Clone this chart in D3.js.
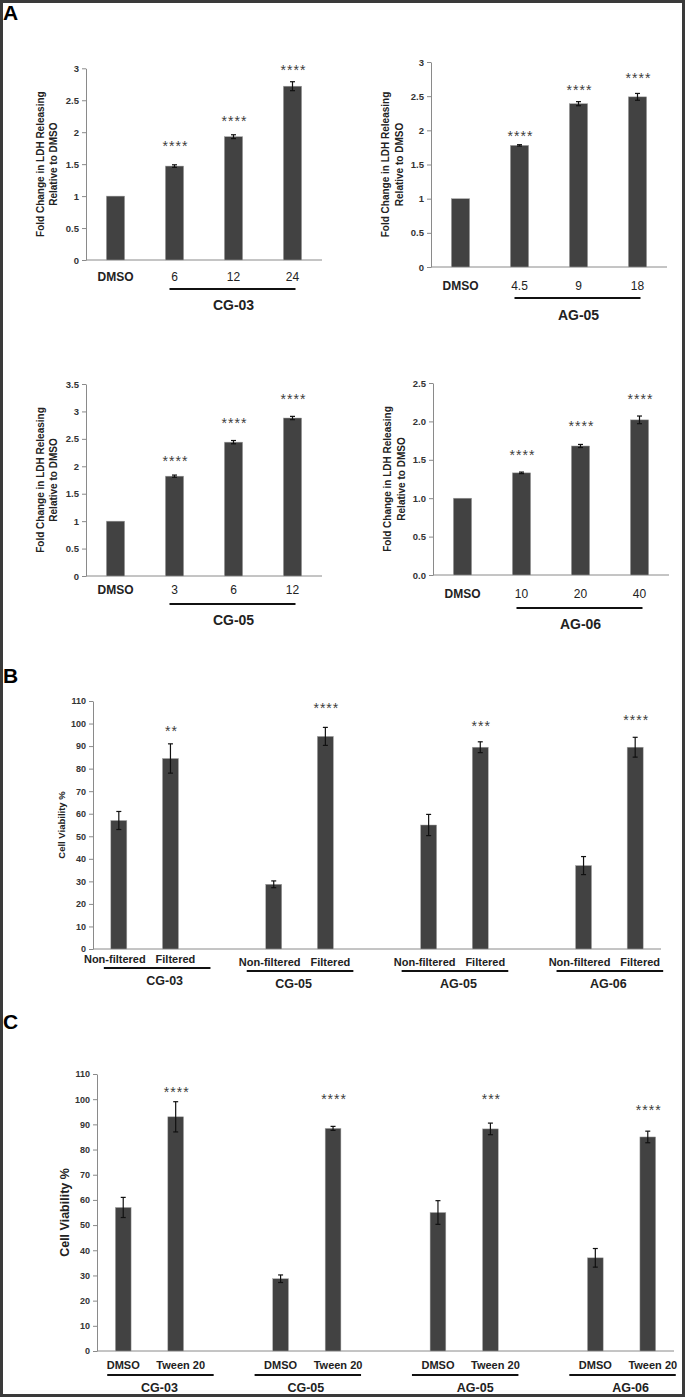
<!DOCTYPE html>
<html>
<head>
<meta charset="utf-8">
<script src="https://cdn.jsdelivr.net/npm/d3@7"></script>
<style>
  body { margin: 0; background: #fff; }
  text { font-family: "Liberation Sans", Arial, sans-serif; }
</style>
</head>
<body>
<div id="fig"></div>
<script>
// ---- panel A: fold change in LDH release ----
var cg03Doses = ["DMSO", "6", "12", "24"];
var cg03Fold = [1, 1.47, 1.93, 2.72];
var cg03Err = [0, 0.02, 0.03, 0.07];
var cg03StarAt = [null, 1.83, 2.22, 3.02];
var cg03Ticks = [0, 0.5, 1, 1.5, 2, 2.5, 3];

var ag05Doses = ["DMSO", "4.5", "9", "18"];
var ag05Fold = [1, 1.78, 2.39, 2.49];
var ag05Err = [0, 0.01, 0.03, 0.05];
var ag05StarAt = [null, 1.96, 2.64, 2.81];
var ag05Ticks = [0, 0.5, 1, 1.5, 2, 2.5, 3];

var cg05Doses = ["DMSO", "3", "6", "12"];
var cg05Fold = [1, 1.82, 2.44, 2.88];
var cg05Err = [0, 0.02, 0.03, 0.03];
var cg05StarAt = [null, 2.15, 2.84, 3.28];
var cg05Ticks = [0, 0.5, 1, 1.5, 2, 2.5, 3, 3.5];

var ag06Doses = ["DMSO", "10", "20", "40"];
var ag06Fold = [1, 1.33, 1.68, 2.02];
var ag06Err = [0, 0.01, 0.02, 0.05];
var ag06StarAt = [null, 1.60, 1.98, 2.33];
var ag06Ticks = [0, 0.5, 1, 1.5, 2, 2.5];

// ---- panels B and C: cell viability ----
var compounds = ["CG-03", "CG-05", "AG-05", "AG-06"];
var viabTicks = [0, 10, 20, 30, 40, 50, 60, 70, 80, 90, 100, 110];

var filterConds = ["Non-filtered", "Filtered"];
var nonFiltered = [57, 28.7, 55, 37];
var nonFilteredErr = [4, 1.5, 4.7, 4];
var filtered = [84.5, 94.3, 89.5, 89.5];
var filteredErr = [6.5, 4, 2.4, 4.4];
var filterStars = ["**", "****", "***", "****"];
var filterStarAt = [98.2, 108.4, 100.4, 103.1];

var tweenConds = ["DMSO", "Tween 20"];
var dmsoViab = [57, 28.7, 55, 37];
var dmsoViabErr = [4, 1.5, 4.7, 3.7];
var tweenViab = [93, 88.4, 88.2, 85];
var tweenViabErr = [6, 0.8, 2.3, 2.3];
var tweenStars = ["****", "****", "***", "****"];
var tweenStarAt = [104, 101.2, 101.2, 96.8];

var W = 685, H = 1397;
var barFill = "#424242", axisCol = "#8a8a8a";

var svg = d3.select("#fig").append("svg")
    .attr("width", W)
    .attr("height", H);

svg.append("rect")
    .attr("x", 1.5).attr("y", 1.5)
    .attr("width", W - 3).attr("height", H - 3)
    .attr("fill", "#fff")
    .attr("stroke", "#3a3a3a")
    .attr("stroke-width", 3);

svg.selectAll("text.panel")
    .data([["A", 20], ["B", 683], ["C", 1029]])
    .enter().append("text")
    .attr("class", "panel")
    .attr("x", 3)
    .attr("y", function(d) { return d[1]; })
    .attr("font-size", 21)
    .attr("font-weight", "bold")
    .text(function(d) { return d[0]; });

function yAxis(g, y, ticks, fmt, fs) {
    g.call(d3.axisLeft(y).tickValues(ticks).tickSize(4).tickSizeOuter(0)
        .tickPadding(3).tickFormat(fmt));
    g.select(".domain").attr("stroke", axisCol);
    g.selectAll(".tick line").attr("stroke", axisCol);
    g.selectAll(".tick text")
        .attr("font-family", "Liberation Sans, Arial, sans-serif")
        .attr("font-size", fs)
        .attr("font-weight", "bold")
        .attr("fill", "#333");
}

function errorBars(g, data, xc, y) {
    var e = g.selectAll("g.err").data(data.filter(function(d) { return d.err > 0; }))
        .enter().append("g").attr("class", "err")
        .attr("stroke", "#111").attr("stroke-width", 1.2);
    e.append("line")
        .attr("x1", xc).attr("x2", xc)
        .attr("y1", function(d) { return y(d.v + d.err); })
        .attr("y2", function(d) { return y(d.v - d.err); });
    [1, -1].forEach(function(s) {
        e.append("line")
            .attr("x1", function(d) { return xc(d) - 2.5; })
            .attr("x2", function(d) { return xc(d) + 2.5; })
            .attr("y1", function(d) { return y(d.v + s * d.err); })
            .attr("y2", function(d) { return y(d.v + s * d.err); });
    });
}

function stars(g, data, xc, y) {
    g.selectAll("text.star").data(data.filter(function(d) { return d.star; }))
        .enter().append("text")
        .attr("class", "star")
        .attr("x", function(d) { return xc(d) + 1; })
        .attr("y", function(d) { return y(d.starAt) + 8; })
        .attr("text-anchor", "middle")
        .attr("font-size", 14)
        .attr("letter-spacing", 1)
        .attr("fill", "#3c3c3c")
        .text(function(d) { return d.star; });
}

// one LDH panel of A
function drawA(p) {
    var y = d3.scaleLinear().domain([0, d3.max(p.ticks)]).range([p.yZero, p.yTop]);
    var x = d3.scaleBand().domain(p.doses)
        .range([p.x0, p.x0 + 236]).paddingInner(0.69).paddingOuter(0.345);
    var data = p.doses.map(function(d, i) {
        return {k: d, v: p.vals[i], err: p.errs[i],
                star: p.starAt[i] ? "****" : null, starAt: p.starAt[i]};
    });
    var xc = function(d) { return x(d.k) + x.bandwidth() / 2; };
    var g = svg.append("g");

    g.append("g").attr("transform", "translate(" + p.x0 + ",0)")
        .call(yAxis, y, p.ticks, p.fmt, 9.5);
    g.append("line")
        .attr("x1", p.x0).attr("x2", p.x0 + 236)
        .attr("y1", p.yZero).attr("y2", p.yZero)
        .attr("stroke", axisCol);

    g.selectAll("rect").data(data).enter().append("rect")
        .attr("x", function(d) { return x(d.k); })
        .attr("y", function(d) { return y(d.v); })
        .attr("width", x.bandwidth())
        .attr("height", function(d) { return p.yZero - y(d.v); })
        .attr("fill", barFill)
        .attr("stroke", "#a8a8a8").attr("stroke-width", 0.5);
    errorBars(g, data, xc, y);
    stars(g, data, xc, y);

    g.selectAll("text.dose").data(data).enter().append("text")
        .attr("class", "dose")
        .attr("x", xc)
        .attr("y", p.labelY)
        .attr("dy", "0.35em")
        .attr("text-anchor", "middle")
        .attr("font-size", 12)
        .attr("font-weight", function(d, i) { return i === 0 ? "bold" : "normal"; })
        .attr("fill", "#222")
        .text(function(d) { return d.k; });

    g.append("line")
        .attr("x1", xc(data[1]) - 5).attr("x2", xc(data[3]) + 3)
        .attr("y1", p.lineY).attr("y2", p.lineY)
        .attr("stroke", "#111").attr("stroke-width", 2);
    g.append("text")
        .attr("x", (xc(data[1]) + xc(data[3])) / 2)
        .attr("y", p.groupY)
        .attr("dy", "0.35em")
        .attr("text-anchor", "middle")
        .attr("font-size", 14)
        .attr("font-weight", "bold")
        .attr("fill", "#222")
        .text(p.name);

    var mid = (p.yZero + p.yTop) / 2;
    ["Fold Change in LDH Releasing", "Relative to DMSO"].forEach(function(t, i) {
        g.append("text")
            .attr("transform", "translate(" + p.titleX[i] + "," + mid + ") rotate(-90)")
            .attr("dy", "0.35em")
            .attr("text-anchor", "middle")
            .attr("font-size", 10)
            .attr("font-weight", "bold")
            .attr("fill", "#222")
            .text(t);
    });
}

drawA({x0: 86, yZero: 260, yTop: 68.3, doses: cg03Doses, vals: cg03Fold, errs: cg03Err,
       starAt: cg03StarAt, ticks: cg03Ticks, fmt: d3.format(""), name: "CG-03",
       labelY: 277, lineY: 289, groupY: 305, titleX: [40, 53]});
drawA({x0: 431, yZero: 267, yTop: 62, doses: ag05Doses, vals: ag05Fold, errs: ag05Err,
       starAt: ag05StarAt, ticks: ag05Ticks, fmt: d3.format(""), name: "AG-05",
       labelY: 286, lineY: 298, groupY: 315, titleX: [385, 399]});
drawA({x0: 86, yZero: 576, yTop: 384, doses: cg05Doses, vals: cg05Fold, errs: cg05Err,
       starAt: cg05StarAt, ticks: cg05Ticks, fmt: d3.format(""), name: "CG-05",
       labelY: 590, lineY: 604, groupY: 620, titleX: [40, 53]});
drawA({x0: 433, yZero: 575, yTop: 383, doses: ag06Doses, vals: ag06Fold, errs: ag06Err,
       starAt: ag06StarAt, ticks: ag06Ticks, fmt: d3.format(".1f"), name: "AG-06",
       labelY: 594, lineY: 608, groupY: 624, titleX: [387, 401]});

// grouped viability panels B and C
function drawGrouped(p) {
    var keys = [];
    compounds.forEach(function(c, i) {
        keys.push(c + "|0", c + "|1");
        if (i < compounds.length - 1) keys.push("gap" + i);
    });
    var y = d3.scaleLinear().domain([0, 110]).range([p.yZero, p.yTop]);
    var x = d3.scaleBand().domain(keys).range([p.x0, p.x1])
        .paddingInner(p.pad).paddingOuter(p.pad / 2);
    var data = [];
    compounds.forEach(function(c, i) {
        data.push({k: c + "|0", c: c, gi: i, ci: 0, cond: p.conds[0], v: p.a[i], err: p.aErr[i]});
        data.push({k: c + "|1", c: c, gi: i, ci: 1, cond: p.conds[1], v: p.b[i], err: p.bErr[i],
                   star: p.stars[i], starAt: p.starAt[i]});
    });
    var xc = function(d) { return x(d.k) + x.bandwidth() / 2; };
    var g = svg.append("g");

    g.append("g").attr("transform", "translate(" + p.x0 + ",0)")
        .call(yAxis, y, viabTicks, d3.format(""), 9);
    g.append("line")
        .attr("x1", p.x0).attr("x2", p.x1)
        .attr("y1", p.yZero).attr("y2", p.yZero)
        .attr("stroke", axisCol);

    g.selectAll("rect").data(data).enter().append("rect")
        .attr("x", function(d) { return x(d.k); })
        .attr("y", function(d) { return y(d.v); })
        .attr("width", x.bandwidth())
        .attr("height", function(d) { return p.yZero - y(d.v); })
        .attr("fill", barFill)
        .attr("stroke", "#a8a8a8").attr("stroke-width", 0.5);
    errorBars(g, data, xc, y);
    stars(g, data, xc, y);

    g.selectAll("text.cond").data(data).enter().append("text")
        .attr("class", "cond")
        .attr("x", function(d) { return xc(d) + p.condShift[d.ci]; })
        .attr("y", function(d) { return p.labelY + p.dy[d.gi]; })
        .attr("dy", "0.35em")
        .attr("text-anchor", "middle")
        .attr("font-size", 11)
        .attr("font-weight", "bold")
        .attr("fill", "#222")
        .text(function(d) { return d.cond; });

    var grp = compounds.map(function(c, i) {
        return {c: c, l: xc(data[2 * i]), r: xc(data[2 * i + 1]), i: i};
    });
    g.selectAll("line.under").data(grp).enter().append("line")
        .attr("class", "under")
        .attr("x1", function(d) { return d.l - p.lineL + p.lineShift[d.i]; })
        .attr("x2", function(d) { return d.r + p.lineR + p.lineShift[d.i]; })
        .attr("y1", function(d) { return p.lineY + p.dy[d.i]; })
        .attr("y2", function(d) { return p.lineY + p.dy[d.i]; })
        .attr("stroke", "#111").attr("stroke-width", 1.8);
    g.selectAll("text.grp").data(grp).enter().append("text")
        .attr("class", "grp")
        .attr("x", function(d) { return (d.l + d.r) / 2 + p.nameShift[d.i]; })
        .attr("y", function(d) { return p.groupY + p.dy[d.i]; })
        .attr("dy", "0.35em")
        .attr("text-anchor", "middle")
        .attr("font-size", 12.5)
        .attr("font-weight", "bold")
        .attr("fill", "#222")
        .text(function(d) { return d.c; });

    g.append("text")
        .attr("transform", "translate(" + p.titleX + "," + (p.yZero + p.yTop) / 2 + ") rotate(-90)")
        .attr("dy", "0.35em")
        .attr("text-anchor", "middle")
        .attr("font-size", p.titleSize)
        .attr("font-weight", "bold")
        .attr("fill", "#222")
        .text("Cell Viability %");
}

drawGrouped({x0: 93, x1: 661, yZero: 949, yTop: 701, pad: 0.69,
             conds: filterConds, a: nonFiltered, aErr: nonFilteredErr,
             b: filtered, bErr: filteredErr, stars: filterStars, starAt: filterStarAt,
             labelY: 962, lineY: 971, groupY: 984, lineL: 27, lineR: 28,
             condShift: [-4, 5], lineShift: [12, 0, 0, 0], nameShift: [20, -6, 4, -1],
             dy: [-3, 0, 0, 0], titleX: 62, titleSize: 9.5});
drawGrouped({x0: 97, x1: 674, yZero: 1351, yTop: 1074, pad: 0.7,
             conds: tweenConds, a: dmsoViab, aErr: dmsoViabErr,
             b: tweenViab, bErr: tweenViabErr, stars: tweenStars, starAt: tweenStarAt,
             labelY: 1365, lineY: 1375, groupY: 1388, lineL: 26, lineR: 28,
             condShift: [0, 5], lineShift: [10, 0, 0, 0], nameShift: [10, -1, 11, 9],
             dy: [0, 0, 0, 0], titleX: 65, titleSize: 12.5});
</script>
</body>
</html>
